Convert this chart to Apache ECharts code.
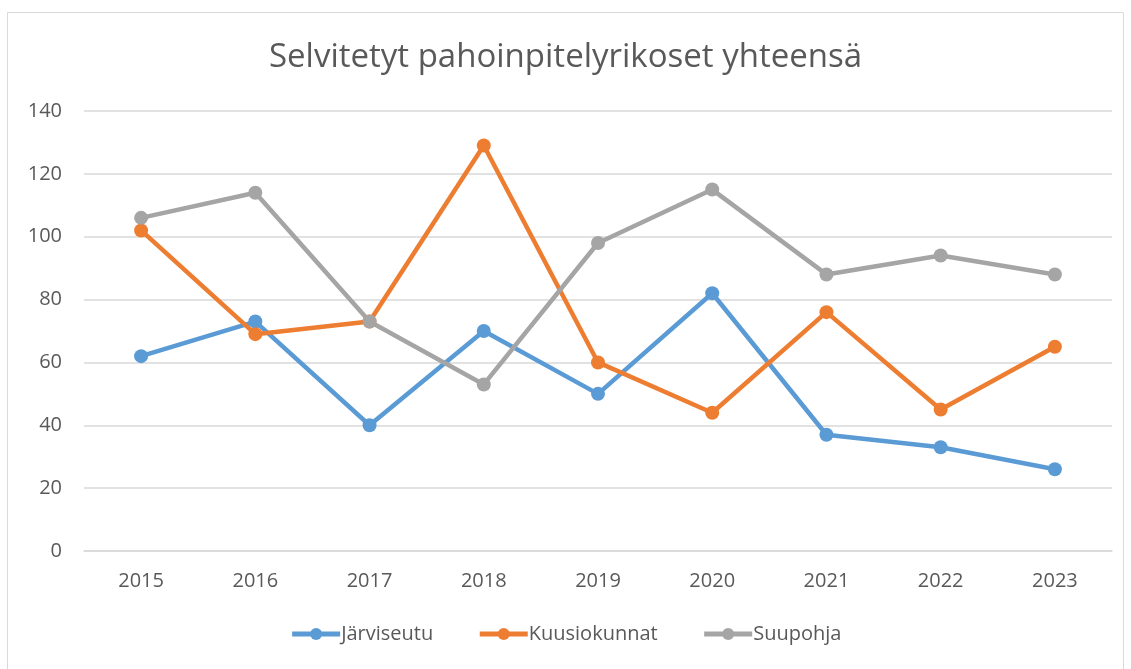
<!DOCTYPE html>
<html>
<head>
<meta charset="utf-8">
<script src="https://cdn.jsdelivr.net/npm/echarts@6/dist/echarts.min.js"></script>
<style>
  html, body { margin: 0; padding: 0; background: #fff; }
  #chart { width: 1131px; height: 669px; }
</style>
</head>
<body>
<div id="chart"></div>
<script>
const years = ['2015', '2016', '2017', '2018', '2019', '2020', '2021', '2022', '2023']
const jarviseutu = [62, 73, 40, 70, 50, 82, 37, 33, 26]
const kuusiokunnat = [102, 69, 73, 129, 60, 44, 76, 45, 65]
const suupohja = [106, 114, 73, 53, 98, 115, 88, 94, 88]

const textColor = '#595959'
const font = "'Open Sans', 'Noto Sans', sans-serif"

const myChart = echarts.init(document.getElementById('chart'))

function lineSeries(name, data, color) {
  return {
    name: name,
    type: 'line',
    data: data,
    symbol: 'circle',
    symbolSize: 14,
    lineStyle: { width: 4.5, color: color },
    itemStyle: { color: color },
  }
}

myChart.setOption({
  animation: false,
  textStyle: { fontFamily: font },
  graphic: [
    {
      type: 'rect',
      shape: { x: 7.5, y: 12.5, width: 1116, height: 680 },
      style: { fill: 'none', stroke: '#d9d9d9', lineWidth: 1 },
      silent: true,
    },
  ],
  title: {
    text: 'Selvitetyt pahoinpitelyrikoset yhteensä',
    left: 'center',
    top: 36,
    textStyle: { fontSize: 33, fontWeight: 'normal', color: textColor, fontFamily: font },
  },
  legend: {
    bottom: 20,
    left: 'center',
    itemWidth: 48,
    itemHeight: 15,
    itemGap: 44,
    lineStyle: { width: 5 },
    textStyle: { fontSize: 20, color: textColor, fontFamily: font, padding: [0, 0, 0, -4] },
    data: ['Järviseutu', 'Kuusiokunnat', 'Suupohja'],
  },
  grid: { left: 84, right: 19, top: 111, bottom: 118 },
  xAxis: {
    type: 'category',
    data: years,
    boundaryGap: true,
    axisLine: { lineStyle: { color: '#d9d9d9', width: 1.5 } },
    axisTick: { show: false },
    axisLabel: { fontSize: 20, color: textColor, margin: 20, fontFamily: font },
  },
  yAxis: {
    type: 'value',
    min: 0,
    max: 140,
    interval: 20,
    axisLine: { show: false },
    axisTick: { show: false },
    axisLabel: { fontSize: 20, color: textColor, margin: 22, fontFamily: font },
    splitLine: { lineStyle: { color: '#d9d9d9', width: 1.5 } },
  },
  series: [
    lineSeries('Järviseutu', jarviseutu, '#5B9BD5'),
    lineSeries('Kuusiokunnat', kuusiokunnat, '#ED7D31'),
    lineSeries('Suupohja', suupohja, '#A5A5A5'),
  ],
})
</script>
</body>
</html>
